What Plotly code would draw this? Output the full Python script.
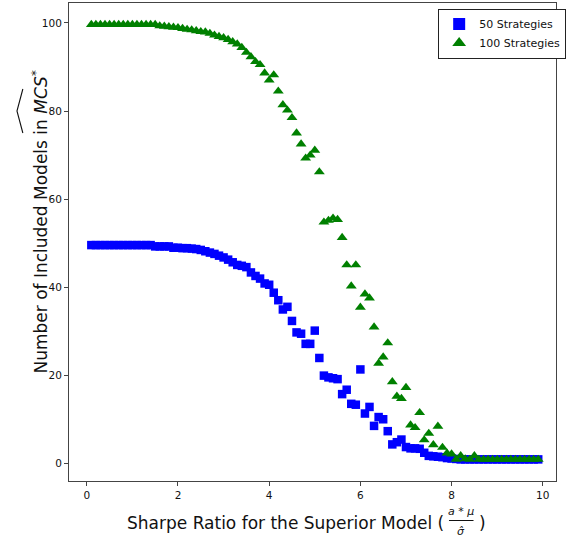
import plotly.graph_objects as go

# ---- data ----
sharpe = [0.1, 0.2, 0.3, 0.4, 0.5, 0.6, 0.7, 0.8, 0.9, 1.0,
          1.1, 1.2, 1.3, 1.4, 1.5, 1.6, 1.7, 1.8, 1.9, 2.0,
          2.1, 2.2, 2.3, 2.4, 2.5, 2.6, 2.7, 2.8, 2.9, 3.0,
          3.1, 3.2, 3.3, 3.4, 3.5, 3.6, 3.7, 3.8, 3.9, 4.0,
          4.1, 4.2, 4.3, 4.4, 4.5, 4.6, 4.7, 4.8, 4.9, 5.0,
          5.1, 5.2, 5.3, 5.4, 5.5, 5.6, 5.7, 5.8, 5.9, 6.0,
          6.1, 6.2, 6.3, 6.4, 6.5, 6.6, 6.7, 6.8, 6.9, 7.0,
          7.1, 7.2, 7.3, 7.4, 7.5, 7.6, 7.7, 7.8, 7.9, 8.0,
          8.1, 8.2, 8.3, 8.4, 8.5, 8.6, 8.7, 8.8, 8.9, 9.0,
          9.1, 9.2, 9.3, 9.4, 9.5, 9.6, 9.7, 9.8, 9.9]

models_50 = [49.6, 49.6, 49.6, 49.6, 49.6, 49.6, 49.6, 49.6, 49.6, 49.6,
             49.6, 49.6, 49.6, 49.6, 49.3, 49.3, 49.3, 49.3, 49.0, 49.0,
             48.9, 48.9, 48.8, 48.7, 48.5, 48.2, 47.9, 47.6, 47.2, 46.8,
             46.3, 45.7, 45.1, 44.9, 44.6, 43.4, 42.6, 42.0, 40.9, 40.6,
             38.8, 37.1, 35.0, 35.6, 32.4, 29.8, 29.5, 27.2, 27.2, 30.2,
             24.0, 20.0, 19.6, 19.4, 19.2, 15.8, 16.8, 13.6, 13.4, 21.4,
             11.4, 12.9, 8.6, 10.6, 10.1, 7.4, 4.4, 4.9, 5.5, 3.8,
             3.5, 3.5, 3.4, 2.5, 1.8, 1.7, 1.6, 1.5, 1.3, 1.2,
             1.1, 1.0, 1.0, 1.0, 1.0, 1.0, 1.0, 1.0, 1.0, 1.0,
             1.0, 1.0, 1.0, 1.0, 1.0, 1.0, 1.0, 1.0, 1.0]

models_100 = [99.6, 99.6, 99.6, 99.6, 99.6, 99.6, 99.6, 99.6, 99.6, 99.6,
              99.6, 99.6, 99.6, 99.6, 99.6, 99.3, 99.2, 99.1, 99.0, 98.9,
              98.7, 98.5, 98.4, 98.2, 98.0, 97.9, 97.6, 97.2, 96.9, 96.6,
              96.2, 95.7, 95.2, 94.4, 93.3, 92.3, 91.2, 90.5, 88.6, 87.0,
              88.2, 84.5, 81.4, 80.2, 78.5, 75.0, 72.5, 69.3, 70.0, 71.1,
              66.2, 54.8, 55.2, 55.7, 55.4, 51.3, 45.1, 40.3, 45.1, 35.5,
              38.5, 37.6, 31.0, 22.8, 24.2, 27.4, 18.6, 15.3, 14.8, 17.3,
              8.8, 8.2, 11.6, 5.4, 6.9, 4.3, 8.5, 3.7, 2.4, 2.2,
              1.0, 1.8, 1.1, 1.0, 1.8, 1.0, 1.0, 1.0, 1.0, 1.0,
              1.0, 1.0, 1.0, 1.0, 1.0, 1.0, 1.0, 1.0, 1.0]

series_names = ["50 Strategies", "100 Strategies"]
x_ticks = [0, 2, 4, 6, 8, 10]
y_ticks = [0, 20, 40, 60, 80, 100]

# ---- layout helpers (pixel -> paper) ----
W, H = 569, 538
L, R, T, B = 69, 4, 3, 57
PW, PH = W - L - R, H - T - B


def px(x):
    return (x - L) / PW


def py(y):
    return (H - B - y) / PH


FONT = "DejaVu Sans, Verdana, sans-serif"

fig = go.Figure()
fig.add_trace(go.Scatter(
    x=sharpe, y=models_50, mode="markers", name=series_names[0],
    marker=dict(symbol="square", size=8.5, color="#0000ff",
                line=dict(width=0))))
fig.add_trace(go.Scatter(
    x=sharpe, y=models_100, mode="markers", name=series_names[1],
    marker=dict(symbol="triangle-up", size=9.5, color="#008000",
                line=dict(width=0))))

axis_common = dict(showgrid=False, zeroline=False, showline=True,
                   linecolor="#444", linewidth=1, mirror=True,
                   ticks="outside", ticklen=4, tickwidth=1, tickcolor="#444",
                   tickfont=dict(family=FONT, size=10.5, color="#111"))

fig.update_xaxes(range=[-0.39, 10.29], tickmode="array", tickvals=x_ticks,
                 **axis_common)
fig.update_yaxes(range=[-3.9, 104.5], tickmode="array", tickvals=y_ticks,
                 **axis_common)

annotations = [
    dict(text="Sharpe Ratio for the Superior Model (", x=px(453), y=py(523),
         xanchor="right", yanchor="middle"),
    dict(text=")", x=px(485), y=py(523), xanchor="left", yanchor="middle"),
    dict(text="<i>a</i> * <i>μ</i>", x=px(468), y=py(511), xanchor="center",
         yanchor="middle", font=dict(family=FONT, size=11, color="#111")),
    dict(text="<i>σ̂</i>", x=px(468), y=py(531), xanchor="center",
         yanchor="middle", font=dict(family=FONT, size=11, color="#111")),
    dict(text="Number of Included Models in <i>MCS</i><sup>*</sup>",
         x=px(39), y=py(222), textangle=-90, xanchor="center",
         yanchor="middle"),
]
for a in annotations:
    a.setdefault("font", dict(family=FONT, size=17, color="#111"))
    a.update(xref="paper", yref="paper", showarrow=False)

shapes = [
    # fraction bar
    dict(type="line", xref="paper", yref="paper", x0=px(456), x1=px(481),
         y0=py(520.5), y1=py(520.5), line=dict(color="#111", width=1)),
    # wide hat over MCS (rotated title)
    dict(type="path", xref="paper", yref="paper",
         path=f"M {px(22)} {py(133)} L {px(16)} {py(111)} L {px(22)} {py(89)}",
         line=dict(color="#111", width=1.1)),
]

fig.update_layout(
    width=W, height=H, margin=dict(l=L, r=R, t=T, b=B),
    paper_bgcolor="white", plot_bgcolor="white",
    font=dict(family=FONT, color="#111"),
    annotations=annotations, shapes=shapes,
    legend=dict(x=px(445), y=py(8.6), xanchor="left", yanchor="top",
                bordercolor="#222", borderwidth=1, bgcolor="white",
                font=dict(family=FONT, size=11, color="#111"),
                tracegroupgap=0, itemsizing="constant"),
    showlegend=True,
)

fig.write_html("out.html")
